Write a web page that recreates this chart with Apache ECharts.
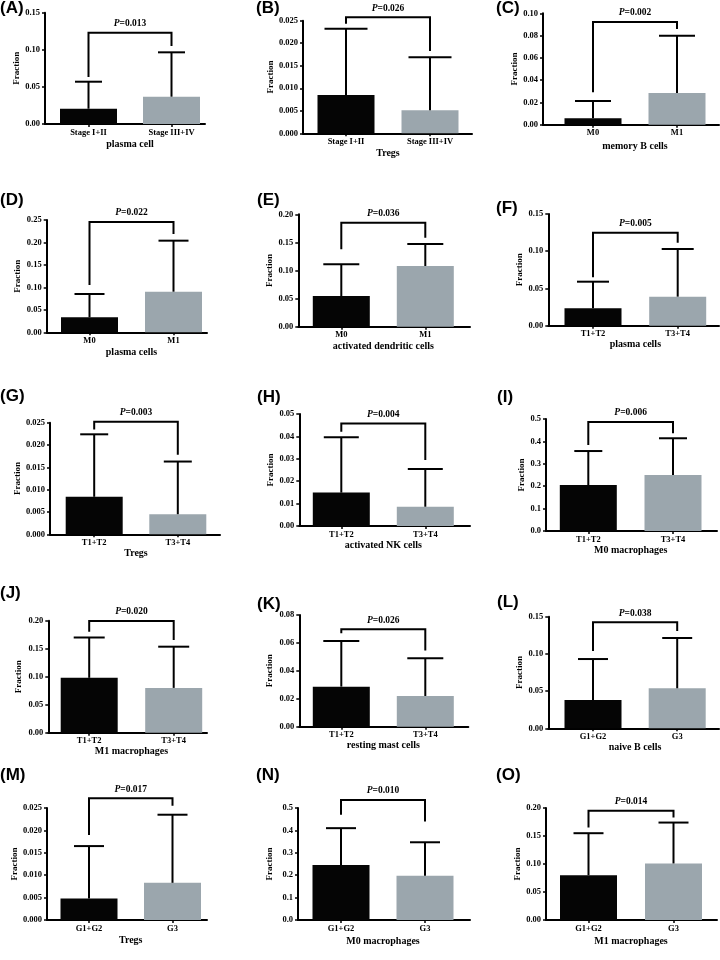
<!DOCTYPE html>
<html><head><meta charset="utf-8">
<script src="https://cdn.jsdelivr.net/npm/echarts@6/dist/echarts.min.js"></script>
<style>html,body{margin:0;padding:0;background:#fff}#c{width:720px;height:960px}</style>
</head><body><div id="c"></div>
<script>
// ---------- data ----------
const panelLabels = ['(A)','(B)','(C)','(D)','(E)','(F)','(G)','(H)','(I)','(J)','(K)','(L)','(M)','(N)','(O)'];
const cellTypes = ['plasma cell','Tregs','memory B cells','plasma cells','activated dendritic cells','plasma cells',
  'Tregs','activated NK cells','M0 macrophages','M1 macrophages','resting mast cells','naive B cells',
  'Tregs','M0 macrophages','M1 macrophages'];
const groupNames = [
  ['Stage I+II','Stage III+IV'],['Stage I+II','Stage III+IV'],['M0','M1'],
  ['M0','M1'],['M0','M1'],['T1+T2','T3+T4'],
  ['T1+T2','T3+T4'],['T1+T2','T3+T4'],['T1+T2','T3+T4'],
  ['T1+T2','T3+T4'],['T1+T2','T3+T4'],['G1+G2','G3'],
  ['G1+G2','G3'],['G1+G2','G3'],['G1+G2','G3']];
const meanValues = [
  [0.0206,0.0368],[0.0085,0.0051],[0.0057,0.0285],
  [0.0334,0.0904],[0.0546,0.108],[0.0234,0.039],
  [0.0084,0.0045],[0.0149,0.0086],[0.205,0.250],
  [0.098,0.080],[0.0287,0.022],[0.038,0.0538],
  [0.0048,0.0083],[0.245,0.197],[0.080,0.101]];
const upperValues = [ // mean + SD
  [0.057,0.0966],[0.0232,0.0169],[0.0213,0.0799],
  [0.0853,0.204],[0.111,0.147],[0.0591,0.103],
  [0.0224,0.0163],[0.0396,0.0254],[0.357,0.414],
  [0.170,0.1536],[0.0614,0.049],[0.0931,0.1214],
  [0.0165,0.0235],[0.410,0.347],[0.155,0.174]];
const pValues = ['0.013','0.026','0.002','0.022','0.036','0.005','0.003','0.004','0.006','0.020','0.026','0.038','0.017','0.010','0.014'];
const bracketTop = [0.123,0.02575,0.0922,0.2455,0.185,0.1249,0.0252,0.0458,0.487,0.1995,0.0698,0.1425,0.0272,0.536,0.195];
const bracketLegEnds = [
  [0.0633,0.1051],[0.0243,0.0183],[0.0291,0.0859],
  [0.1053,0.2188],[0.1377,0.1584],[0.065,0.1115],
  [0.0235,0.0178],[0.0421,0.0295],[0.384,0.436],
  [0.1804,0.1654],[0.0669,0.0545],[0.1039,0.1308],
  [0.019,0.0255],[0.47,0.44],[0.165,0.183]];
const yMax = [0.15,0.025,0.10,0.25,0.20,0.15,0.025,0.05,0.5,0.20,0.08,0.15,0.025,0.5,0.20];
const yStep = [0.05,0.005,0.02,0.05,0.05,0.05,0.005,0.01,0.1,0.05,0.02,0.05,0.005,0.1,0.05];
const yDecimals = [2,3,2,2,2,2,3,2,1,2,2,2,3,1,2];

// ---------- layout (pixels) ----------
// ax: y-axis x, end: x-axis end, c1/c2: bar centres, top: y of max, zero: y of 0,
// cap: error cap width, xg: x-name centre below axis, yg: y-name centre left of axis, lx/ly letter pos
const layout = [
  {ax:45,end:205,c1:88.5,c2:171.5,top:12.7,zero:124,cap:27,xg:20,yg:27,lx:0,ly:7.5},
  {ax:303,end:472,c1:346,c2:430,top:20.7,zero:133.3,cap:43,xg:19.7,yg:31,lx:256,ly:7.5},
  {ax:543,end:719,c1:593,c2:677,top:13.3,zero:124.7,cap:36,xg:21.3,yg:20,lx:496,ly:7.5},
  {ax:46.7,end:207,c1:89.5,c2:173.5,top:220,zero:332.3,cap:30,xg:19.7,yg:28.7,lx:0,ly:200},
  {ax:298.3,end:470,c1:341.3,c2:425.3,top:214.3,zero:326.7,cap:36,xg:20,yg:28,lx:257,ly:200},
  {ax:548.3,end:719,c1:593,c2:677.7,top:214,zero:325.7,cap:32,xg:18.3,yg:26.6,lx:496,ly:208},
  {ax:50,end:220,c1:94.2,c2:177.8,top:422.7,zero:534.3,cap:28,xg:15.7,yg:31,lx:0,ly:396},
  {ax:299.3,end:470,c1:341.3,c2:425.3,top:414,zero:526,cap:35,xg:19,yg:28.6,lx:257,ly:397},
  {ax:546,end:717,c1:588.3,c2:673,top:419,zero:531,cap:28,xg:19,yg:23.3,lx:497,ly:397},
  {ax:48.3,end:207,c1:89.2,c2:173.7,top:620.7,zero:732.7,cap:31,xg:19,yg:30,lx:0,ly:593},
  {ax:299.3,end:468.3,c1:341.3,c2:425.3,top:615,zero:726.7,cap:36,xg:19,yg:29.3,lx:257,ly:604},
  {ax:548.3,end:719,c1:593,c2:677.2,top:616.7,zero:728.3,cap:30,xg:18.4,yg:25.6,lx:497,ly:602},
  {ax:47,end:207,c1:89,c2:172.5,top:808,zero:920,cap:30,xg:20,yg:29,lx:0,ly:775},
  {ax:298,end:470,c1:341,c2:425,top:808,zero:920,cap:30,xg:21,yg:28,lx:256,ly:775},
  {ax:546,end:717,c1:588.5,c2:673.5,top:808,zero:920,cap:30,xg:21,yg:25,lx:496,ly:775}
];

const SERIF = '"Liberation Serif", "Times New Roman", serif';
const barColors = ['#050505', '#9ba6ad'];

const grids = [], xAxes = [], yAxes = [], series = [], graphics = [];
layout.forEach((L, i) => {
  const band = L.c2 - L.c1;
  grids.push({left: L.ax, top: L.top, width: L.end - L.ax, height: L.zero - L.top});
  const diff = (L.c1 + L.c2) / 2 - (L.ax + L.end) / 2;
  xAxes.push({
    gridIndex: i, type: 'value',
    min: -(L.c1 - L.ax) / band, max: 1 + (L.end - L.c2) / band,
    splitLine: {show: false},
    axisLine: {show: true, onZero: false, lineStyle: {color: '#000', width: 2}},
    axisTick: {show: true, customValues: [0, 1], length: 3, lineStyle: {color: '#000', width: 1.5}},
    axisLabel: {customValues: [0, 1], formatter: v => groupNames[i][Math.round(v)],
      fontFamily: SERIF, fontWeight: 'bold', fontSize: 8.5, color: '#000', margin: 4},
    name: cellTypes[i], nameLocation: 'middle', nameGap: L.xg - 5,
    nameTextStyle: {fontFamily: SERIF, fontWeight: 'bold', fontSize: 10, color: '#000',
      padding: diff >= 0 ? [0, 0, 0, 2 * diff] : [0, -2 * diff, 0, 0]}
  });
  yAxes.push({
    gridIndex: i, type: 'value', min: 0, max: yMax[i], interval: yStep[i],
    splitLine: {show: false},
    axisLine: {show: true, onZero: false, lineStyle: {color: '#000', width: 2}},
    axisTick: {show: true, length: 3, lineStyle: {color: '#000', width: 1.5}},
    axisLabel: {formatter: v => v.toFixed(yDecimals[i]), fontFamily: SERIF, fontWeight: 'bold',
      fontSize: 8.5, color: '#000', margin: 5},
    name: 'Fraction', nameLocation: 'middle', nameGap: L.yg - 4.5,
    nameTextStyle: {fontFamily: SERIF, fontWeight: 'bold', fontSize: 9, color: '#000'}
  });
  series.push({
    type: 'bar', xAxisIndex: i, yAxisIndex: i, barWidth: 57, silent: true,
    data: meanValues[i].map((m, k) => ({value: [k, m], itemStyle: {color: barColors[k]}}))
  });
  series.push({
    type: 'custom', xAxisIndex: i, yAxisIndex: i, silent: true, clip: false, z: 5,
    encode: {x: 0, y: [1, 2]},
    data: meanValues[i].map((m, k) => [k, m, upperValues[i][k]]),
    renderItem: (params, api) => {
      const x = api.value(0);
      const p0 = api.coord([x, api.value(1)]);
      const p1 = api.coord([x, api.value(2)]);
      const hw = L.cap / 2;
      const st = {stroke: '#000', lineWidth: 2};
      return {type: 'group', children: [
        {type: 'line', shape: {x1: p0[0], y1: p0[1], x2: p1[0], y2: p1[1]}, style: st},
        {type: 'line', shape: {x1: p1[0] - hw, y1: p1[1], x2: p1[0] + hw, y2: p1[1]}, style: st}
      ]};
    }
  });
  series.push({
    type: 'custom', xAxisIndex: i, yAxisIndex: i, silent: true, clip: false, z: 5,
    encode: {x: [0, 1], y: [2, 3, 4]},
    data: [[0, 1, bracketLegEnds[i][0], bracketTop[i], bracketLegEnds[i][1]]],
    renderItem: (params, api) => {
      const pL = api.coord([api.value(0), api.value(2)]);
      const pLT = api.coord([api.value(0), api.value(3)]);
      const pRT = api.coord([api.value(1), api.value(3)]);
      const pR = api.coord([api.value(1), api.value(4)]);
      return {type: 'group', children: [
        {type: 'polyline', shape: {points: [pL, pLT, pRT, pR]}, style: {stroke: '#000', lineWidth: 2, fill: null}},
        {type: 'text', x: (pLT[0] + pRT[0]) / 2, y: pLT[1] - 9,
          style: {text: '{i|P}=' + pValues[i], fill: '#000', align: 'center', verticalAlign: 'middle',
            fontFamily: SERIF, fontWeight: 'bold', fontSize: 9.5,
            rich: {i: {fontStyle: 'italic', fontWeight: 'bold', fontFamily: SERIF, fontSize: 9.5, fill: '#000'}}}}
      ]};
    }
  });
  graphics.push({type: 'text', left: L.lx, top: L.ly - 8,
    style: {text: panelLabels[i], fill: '#000', font: 'bold 17px "Liberation Sans", Arial, sans-serif'}});
});

const chart = echarts.init(document.getElementById('c'), null, {renderer: 'canvas'});
chart.setOption({
  animation: false, backgroundColor: '#fff',
  grid: grids, xAxis: xAxes, yAxis: yAxes, series: series, graphic: graphics
});
</script></body></html>
